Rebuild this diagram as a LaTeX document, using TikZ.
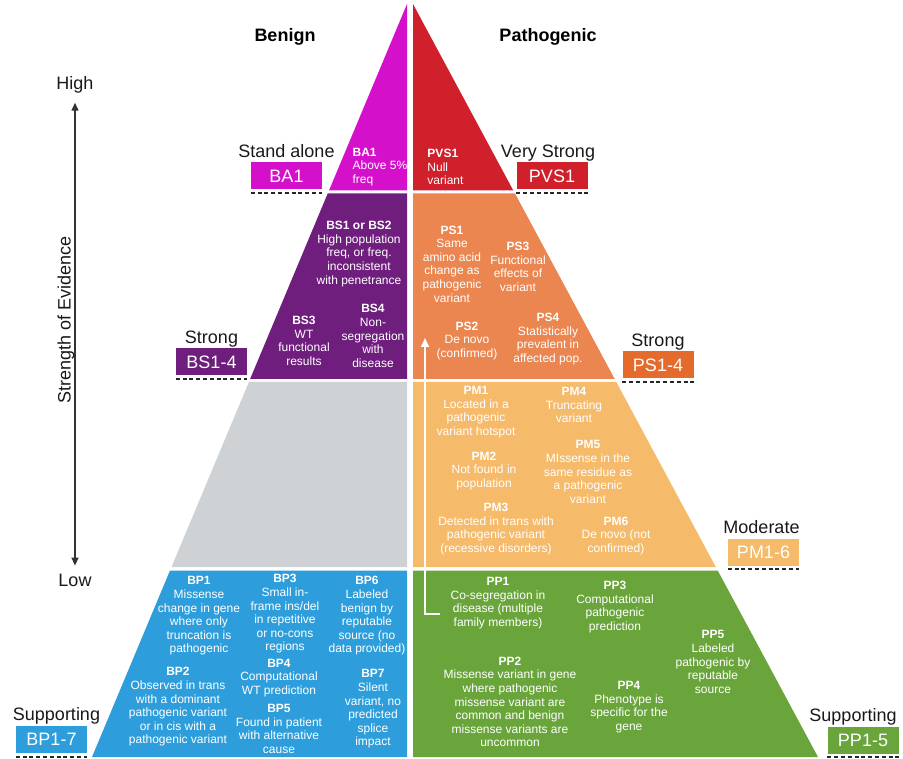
\documentclass[tikz,border=0pt]{standalone}
\usepackage{fontspec}
\setmainfont{Liberation Sans}
\usepackage{xcolor}
\usepackage{tikz}
\usetikzlibrary{arrows.meta, positioning}
\definecolor{bamagenta}{RGB}{212, 16, 203}
\definecolor{pvsred}{RGB}{208, 32, 43}
\definecolor{bspurple}{RGB}{111, 30, 125}
\definecolor{psorange}{RGB}{235, 134, 80}
\definecolor{pstag}{RGB}{229, 107, 44}
\definecolor{pmorange}{RGB}{246, 186, 107}
\definecolor{bpblue}{RGB}{45, 158, 219}
\definecolor{ppgreen}{RGB}{106, 165, 59}
\definecolor{midgray}{RGB}{207, 210, 213}

\begin{document}
\begin{tikzpicture}[x=1pt, y=-1pt,
    crit/.style={text=white, align=center, inner sep=0pt, 
                 font=\fontsize{12}{13.6}\selectfont},
    tag/.style={minimum width=71pt, minimum height=27pt, inner sep=0pt, 
                text=white, font=\fontsize{18}{20}\selectfont},
    level/.style={inner sep=0pt, text depth=0pt, text=black!90, 
                  font=\fontsize{18}{20}\selectfont},
    side/.style={inner sep=0pt, font=\fontsize{18}{20}\selectfont\bfseries},
    cut/.style={line width=1.8pt, dash pattern=on 4pt off 2.8pt, black!85}
]
    \useasboundingbox (0,0) rectangle (903,759);

    \fill[bamagenta] (407,4) -- (329,190.5) -- (407,190.5) -- cycle;
    \fill[pvsred] (413,4) -- (513.3,190.5) -- (413,190.5) -- cycle;
    \fill[bspurple] (327.7,193.5) -- (407,193.5) -- (407,379) -- (250.1,379) -- cycle;
    \fill[psorange] (413,193.5) -- (515,193.5) -- (614.7,379) -- (413,379) -- cycle;
    \fill[midgray] (248.9,382) -- (407,382) -- (407,567) -- (171.5,567) -- cycle;
    \fill[pmorange] (413,382) -- (616.3,382) -- (715.8,567) -- (413,567) -- cycle;
    \fill[bpblue] (170,570.5) -- (407,570.5) -- (407,757) -- (92,757) -- cycle;
    \fill[ppgreen] (413,570.5) -- (717.7,570.5) -- (818,757) -- (413,757) -- cycle;

    \node[side] (benign) at (285,37) {Benign};
    \node[side] (patho) at (548,37) {Pathogenic};

    \node[level] (high) at (75,83) {High};
    \node[level] (low) at (75,580) {Low};
    \draw[line width=1.4pt, black!80, {Triangle[length=8pt,width=7pt]}-{Triangle[length=8pt,width=7pt]},
          shorten <=13pt, shorten >=8pt] (high) -- (low);
    \node[level, rotate=90] (strength) at (64,320) {Strength of Evidence};

    \node[tag, fill=bamagenta] (ba1tag) at (286.5,176) {BA1};
    \node[level, above=5pt of ba1tag] (standalone) {Stand alone};
    \node[tag, fill=pvsred] (pvs1tag) at (552,176) {PVS1};
    \node[level, above=5pt of pvs1tag, xshift=-4pt] (verystrong) {Very Strong};
    \node[tag, fill=bspurple] (bstag) at (211.5,362) {BS1-4};
    \node[level, above=5pt of bstag] (strongb) {Strong};
    \node[tag, fill=pstag] (pstagbox) at (658,365) {PS1-4};
    \node[level, above=5pt of pstagbox] (strongp) {Strong};
    \node[tag, fill=pmorange] (pmtag) at (763.5,552) {PM1-6};
    \node[level, above=5pt of pmtag, xshift=-2pt] (moderate) {Moderate};
    \node[tag, fill=bpblue] (bptag) at (51.5,739.5) {BP1-7};
    \node[level, above=5pt of bptag, xshift=5pt] (suppb) {Supporting};
    \node[tag, fill=ppgreen] (pptag) at (863,740) {PP1-5};
    \node[level, above=5pt of pptag, xshift=-10pt] (suppp) {Supporting};

    \foreach \t in {ba1tag, pvs1tag, bstag, pstagbox, pmtag, bptag, pptag}
        \draw[cut] ([yshift=-3.5pt]\t.south west) -- ([yshift=-3.5pt]\t.south east);

    \node[crit, align=left] (ba1) at (380,167) {\textbf{BA1}\\Above 5\%\\freq};
    \node[crit, align=left] (pvs1) at (445.5,167) {\textbf{PVS1}\\Null\\variant};

    \node[crit] (bs12) at (359,254) {\textbf{BS1 or BS2}\\High population\\freq, or freq.\\inconsistent\\with penetrance};
    \node[crit] (bs3) at (304,341) {\textbf{BS3}\\WT\\functional\\results};
    \node[crit] (bs4) at (373,336) {\textbf{BS4}\\Non-\\segregation\\with\\disease};
    \node[crit] (ps1) at (452,264) {\textbf{PS1}\\Same\\amino acid\\change as\\pathogenic\\variant};
    \node[crit] (ps3) at (518,267) {\textbf{PS3}\\Functional\\effects of\\variant};
    \node[crit] (ps2) at (467,341) {\textbf{PS2}\\De novo\\(confirmed)};
    \node[crit] (ps4) at (548,339) {\textbf{PS4}\\Statistically\\prevalent in\\affected pop.};

    \node[crit] (pm1) at (476,412) {\textbf{PM1}\\Located in a\\pathogenic\\variant hotspot};
    \node[crit] (pm4) at (574,405) {\textbf{PM4}\\Truncating\\variant};
    \node[crit] (pm2) at (484,471) {\textbf{PM2}\\Not found in\\population};
    \node[crit] (pm5) at (588,472) {\textbf{PM5}\\MIssense in the\\same residue as\\a pathogenic\\variant};
    \node[crit] (pm3) at (496,529) {\textbf{PM3}\\Detected in trans with\\pathogenic variant\\(recessive disorders)};
    \node[crit] (pm6) at (616,536) {\textbf{PM6}\\De novo (not\\confirmed)};

    \node[crit] (bp1) at (199,616) {\textbf{BP1}\\Missense\\change in gene\\where only\\truncation is\\pathogenic};
    \node[crit] (bp3) at (285,614) {\textbf{BP3}\\Small in-\\frame ins/del\\in repetitive\\or no-cons\\regions};
    \node[crit] (bp6) at (367,616) {\textbf{BP6}\\Labeled\\benign by\\reputable\\source (no\\data provided)};
    \node[crit] (bp2) at (178,707) {\textbf{BP2}\\Observed in trans\\with a dominant\\pathogenic variant\\or in cis with a\\pathogenic variant};
    \node[crit] (bp4) at (279,678) {\textbf{BP4}\\Computational\\WT prediction};
    \node[crit] (bp5) at (279,729) {\textbf{BP5}\\Found in patient\\with alternative\\cause};
    \node[crit] (bp7) at (373,709) {\textbf{BP7}\\Silent\\variant, no\\predicted\\splice\\impact};

    \node[crit] (pp1) at (498,603) {\textbf{PP1}\\Co-segregation in\\disease (multiple\\family members)};
    \node[crit] (pp3) at (615,607) {\textbf{PP3}\\Computational\\pathogenic\\prediction};
    \node[crit] (pp5) at (713,662) {\textbf{PP5}\\Labeled\\pathogenic by\\reputable\\source};
    \node[crit] (pp2) at (510,702) {\textbf{PP2}\\Missense variant in gene\\where pathogenic\\missense variant are\\common and benign\\missense variants are\\uncommon};
    \node[crit] (pp4) at (629,707) {\textbf{PP4}\\Phenotype is\\specific for the\\gene};

    \coordinate (pp1hook) at (440,614);
    \coordinate (ps2tip) at (425,338);
    \draw[white, line width=1.6pt, -{Triangle[length=9pt,width=8pt]}] (pp1hook) -| (ps2tip);
\end{tikzpicture}
\end{document}
